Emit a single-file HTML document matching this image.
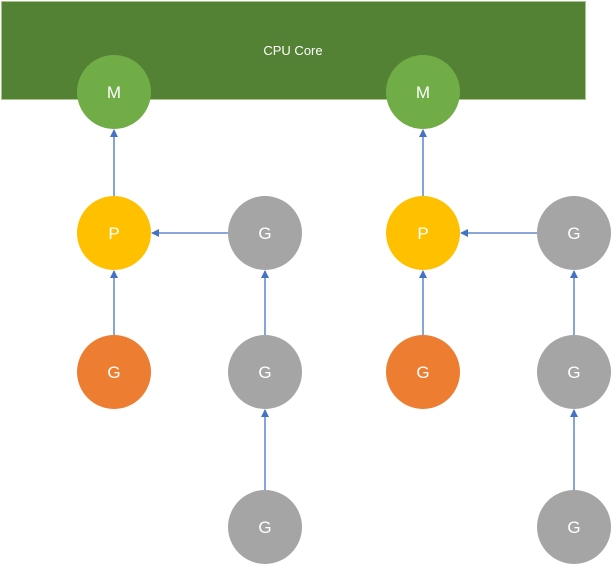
<!DOCTYPE html>
<html><head><style>body{margin:0;background:#fff}svg{display:block}text{font-family:"Liberation Sans",sans-serif;fill:#fff;text-anchor:middle}</style></head>
<body>
<svg width="613" height="567" viewBox="0 0 613 567">
<defs><marker id="a" markerWidth="8" markerHeight="8" refX="7" refY="4" orient="auto" markerUnits="userSpaceOnUse"><path d="M0,0 L8,4 L0,8 Z" fill="#4472C4"/></marker></defs>
<rect x="1.5" y="1.5" width="584" height="98" fill="#548235" stroke="#a9c48f" stroke-width="1"/>
<text x="293" y="55" font-size="13">CPU Core</text>
<g stroke="#4472C4" stroke-width="1.3" marker-end="url(#a)">
<line x1="114" y1="196" x2="114" y2="130"/><line x1="423" y1="196" x2="423" y2="130"/>
<line x1="114" y1="335" x2="114" y2="271"/><line x1="423" y1="335" x2="423" y2="271"/>
<line x1="228" y1="233" x2="152" y2="233"/><line x1="537" y1="233" x2="461" y2="233"/>
<line x1="265" y1="335" x2="265" y2="271"/><line x1="574" y1="335" x2="574" y2="271"/>
<line x1="265" y1="490" x2="265" y2="410"/><line x1="574" y1="490" x2="574" y2="410"/>
</g>
<g font-size="17">
<circle cx="114" cy="92" r="37" fill="#70AD47"/><text x="114" y="98">M</text>
<circle cx="423" cy="92" r="37" fill="#70AD47"/><text x="423" y="98">M</text>
<circle cx="114" cy="233" r="37" fill="#FFC000"/><text x="114" y="239">P</text>
<circle cx="423" cy="233" r="37" fill="#FFC000"/><text x="423" y="239">P</text>
<circle cx="265" cy="233" r="37" fill="#A5A5A5"/><text x="265" y="239">G</text>
<circle cx="574" cy="233" r="37" fill="#A5A5A5"/><text x="574" y="239">G</text>
<circle cx="114" cy="372" r="37" fill="#ED7D31"/><text x="114" y="378">G</text>
<circle cx="423" cy="372" r="37" fill="#ED7D31"/><text x="423" y="378">G</text>
<circle cx="265" cy="372" r="37" fill="#A5A5A5"/><text x="265" y="378">G</text>
<circle cx="574" cy="372" r="37" fill="#A5A5A5"/><text x="574" y="378">G</text>
<circle cx="265" cy="527" r="37" fill="#A5A5A5"/><text x="265" y="533">G</text>
<circle cx="574" cy="527" r="37" fill="#A5A5A5"/><text x="574" y="533">G</text>
</g>
</svg>
</body></html>
